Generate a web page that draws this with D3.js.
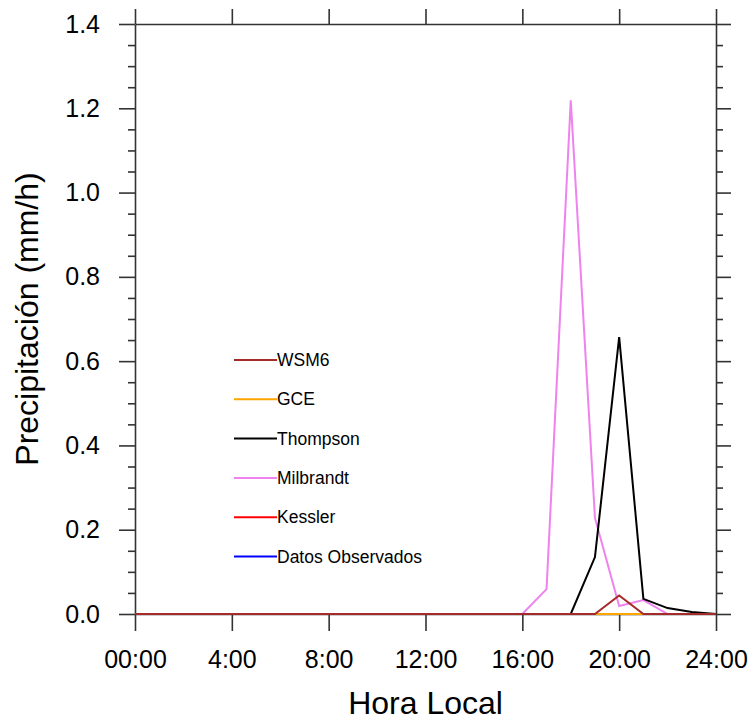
<!DOCTYPE html>
<html>
<head>
<meta charset="utf-8">
<script src="https://cdn.jsdelivr.net/npm/d3@7"></script>
<style>
  body { margin: 0; background: #fff; }
  svg { font-family: "Liberation Sans", Arial, Helvetica, sans-serif; }
  .axis path, .axis line { stroke: #333; stroke-width: 1.6; }
  .axis text { fill: #000; font-size: 25px; }
</style>
</head>
<body>
<div id="chart"></div>
<script>
// hours 0..24
const hours = d3.range(0, 25);

const wsm6      = [0,0,0,0,0,0,0,0,0,0,0,0,0,0,0,0,0,0,0,0,0.044,0,0,0,0];
const gce       = [0,0,0,0,0,0,0,0,0,0,0,0,0,0,0,0,0,0,0,0,0,0,0,0,0];
const thompson  = [0,0,0,0,0,0,0,0,0,0,0,0,0,0,0,0,0,0,0,0.135,0.657,0.036,0.014,0.005,0];
const milbrandt = [0,0,0,0,0,0,0,0,0,0,0,0,0,0,0,0,0,0.059,1.219,0.228,0.019,0.033,0,0,0];
const kessler   = [0,0,0,0,0,0,0,0,0,0,0,0,0,0,0,0,0,0,0,0,0,0,0,0,0];
const observado = [0,0,0,0,0,0,0,0,0,0,0,0,0,0,0,0,0,0,0,0,0,0,0,0,0];

const seriesNames  = ["WSM6", "GCE", "Thompson", "Milbrandt", "Kessler", "Datos Observados"];
const seriesValues = [wsm6, gce, thompson, milbrandt, kessler, observado];
const seriesColors = ["#a52a2a", "#ffa500", "#000000", "#ee82ee", "#ff0000", "#0000ff"];

const xTicks = [0, 4, 8, 12, 16, 20, 24];
const xTickLabels = ["00:00", "4:00", "8:00", "12:00", "16:00", "20:00", "24:00"];
const yTicks = [0, 0.2, 0.4, 0.6, 0.8, 1.0, 1.2, 1.4];

const W = 752, H = 721;
const margin = {top: 24, right: 36, bottom: 107, left: 135};
const width = W - margin.left - margin.right;
const height = H - margin.top - margin.bottom;

const svg = d3.select("#chart").append("svg")
    .attr("width", W)
    .attr("height", H);

const g = svg.append("g")
    .attr("transform", "translate(" + margin.left + "," + margin.top + ")");

const x = d3.scaleLinear().domain([0, 24]).range([0, width]);
const y = d3.scaleLinear().domain([0, 1.4]).range([height, 0]);

const minorY = d3.range(0, 1.4001, 0.05).filter(v => Math.abs(Math.round(v * 5) - v * 5) > 1e-6);

// minor ticks (left and right)
g.append("g").attr("class", "axis")
    .call(d3.axisLeft(y).tickValues(minorY).tickSizeInner(7).tickSizeOuter(0).tickFormat(""))
    .select(".domain").remove();
g.append("g").attr("class", "axis")
    .attr("transform", "translate(" + width + ",0)")
    .call(d3.axisRight(y).tickValues(minorY).tickSizeInner(7).tickSizeOuter(0).tickFormat(""))
    .select(".domain").remove();

// major axes
g.append("g").attr("class", "axis")
    .call(d3.axisLeft(y).tickValues(yTicks).tickSizeInner(16).tickSizeOuter(0)
        .tickPadding(19).tickFormat(d3.format(".1f")));

g.append("g").attr("class", "axis")
    .attr("transform", "translate(" + width + ",0)")
    .call(d3.axisRight(y).tickValues(yTicks).tickSizeInner(15).tickSizeOuter(0).tickFormat(""));

g.append("g").attr("class", "axis")
    .attr("transform", "translate(0," + height + ")")
    .call(d3.axisBottom(x).tickValues(xTicks).tickSizeInner(17).tickSizeOuter(0)
        .tickPadding(19).tickFormat((d, i) => xTickLabels[i]));

g.append("g").attr("class", "axis")
    .call(d3.axisTop(x).tickValues(xTicks).tickSizeInner(15).tickSizeOuter(0).tickFormat(""));

// lines, drawn last-to-first so WSM6 sits on top
const line = d3.line()
    .x((d, i) => x(hours[i]))
    .y(d => y(d));

for (let k = seriesValues.length - 1; k >= 0; k--) {
    g.append("path")
        .datum(seriesValues[k])
        .attr("fill", "none")
        .attr("stroke", seriesColors[k])
        .attr("stroke-width", 2)
        .attr("stroke-linejoin", "miter")
        .attr("d", line);
}

// legend
const legend = svg.append("g").attr("transform", "translate(234,360)");
seriesNames.forEach((name, i) => {
    const row = legend.append("g").attr("transform", "translate(0," + (i * 39.3) + ")");
    row.append("line")
        .attr("x1", 0).attr("x2", 43)
        .attr("stroke", seriesColors[i])
        .attr("stroke-width", 2);
    row.append("text")
        .attr("x", 43)
        .attr("dy", "0.35em")
        .style("font-size", "17.5px")
        .text(name);
});

// axis titles
svg.append("text")
    .attr("x", margin.left + width / 2)
    .attr("y", 714)
    .attr("text-anchor", "middle")
    .style("font-size", "32px")
    .text("Hora Local");

svg.append("text")
    .attr("transform", "translate(38," + (margin.top + height / 2) + ") rotate(-90)")
    .attr("text-anchor", "middle")
    .style("font-size", "32px")
    .text("Precipitación (mm/h)");
</script>
</body>
</html>
